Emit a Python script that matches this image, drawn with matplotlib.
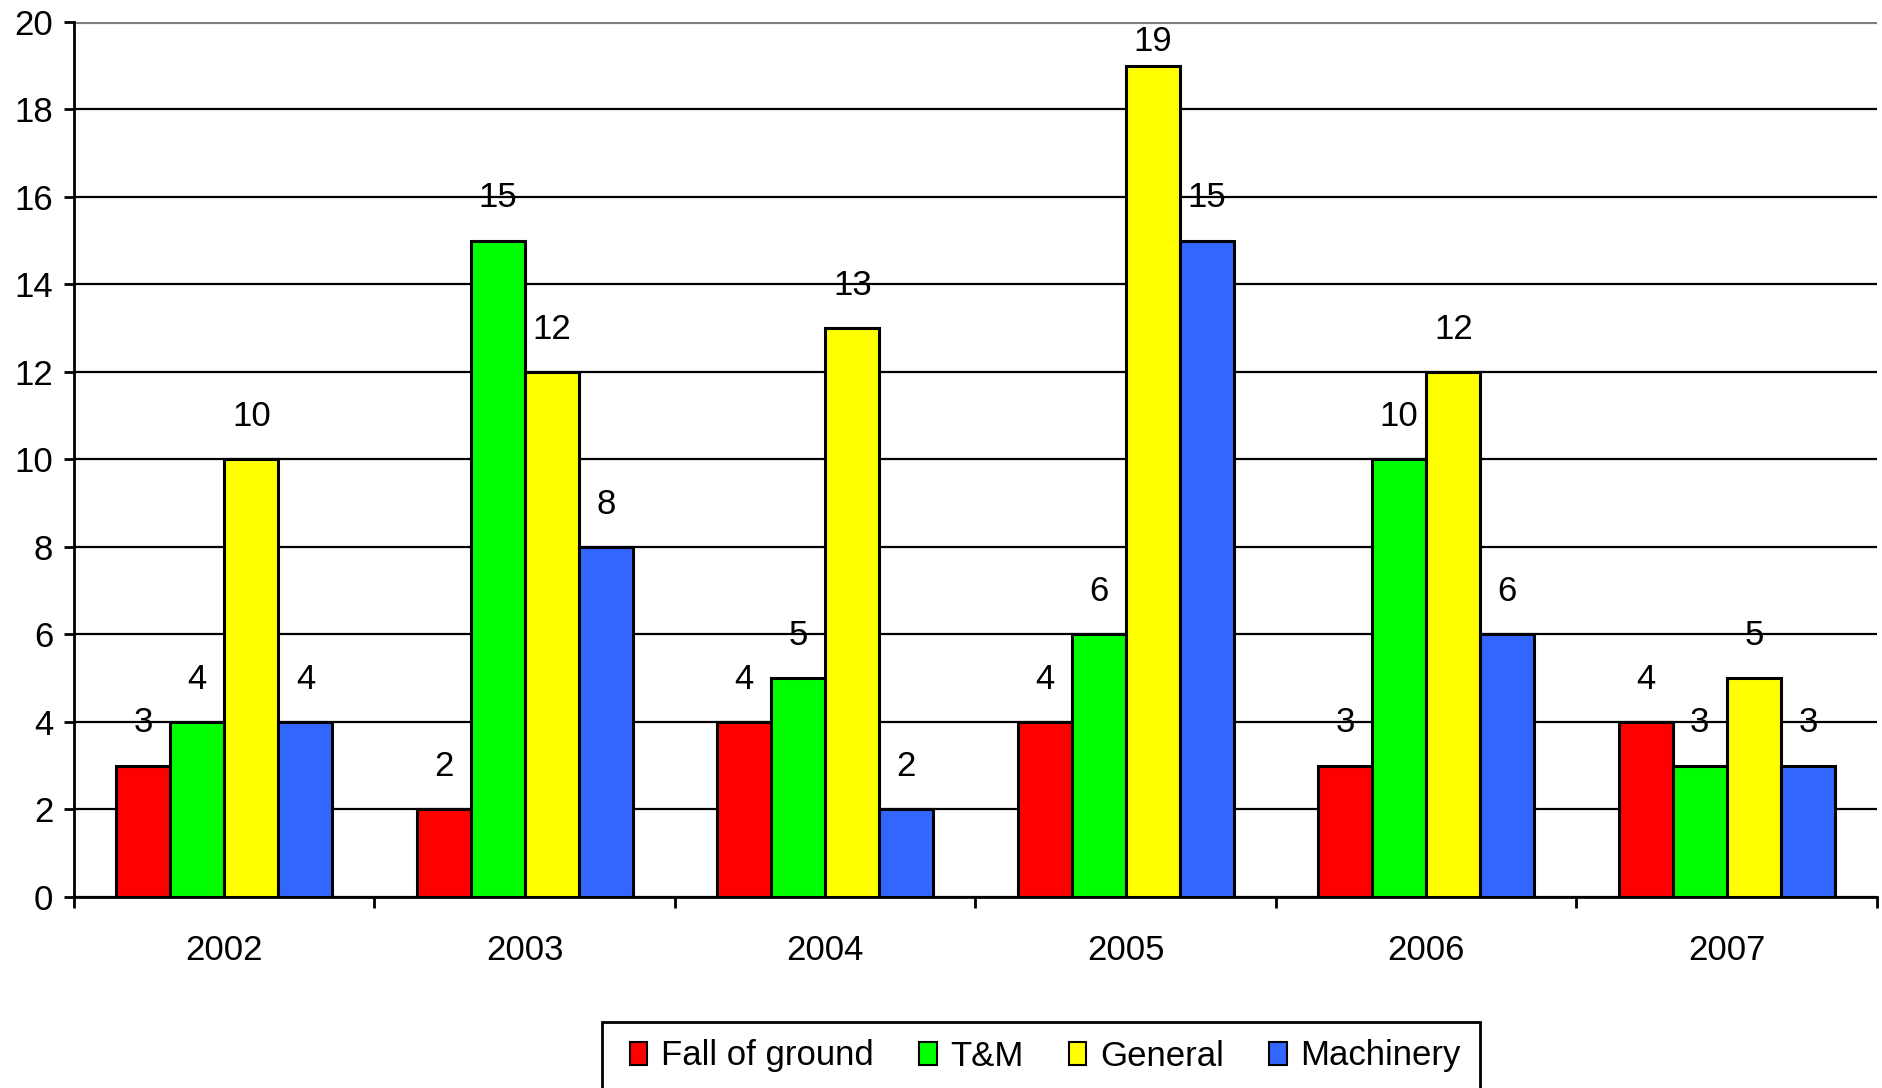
import numpy as np
import matplotlib.pyplot as plt
from matplotlib.patches import Rectangle

# data
years = ['2002', '2003', '2004', '2005', '2006', '2007']
fall_of_ground = [3, 2, 4, 4, 3, 4]
tm = [4, 15, 5, 6, 10, 3]
general = [10, 12, 13, 19, 12, 5]
machinery = [4, 8, 2, 15, 6, 3]

series = [('Fall of ground', fall_of_ground, '#FF0000'),
          ('T&M', tm, '#00FF00'),
          ('General', general, '#FFFF00'),
          ('Machinery', machinery, '#3366FF')]

plt.rcParams['font.family'] = ['Liberation Sans', 'DejaVu Sans']
fs = 25

fig = plt.figure(figsize=(18.83, 10.88), dpi=100)
ax = fig.add_axes([0.0393, 0.1756, 0.9575, 0.8042])

x = np.arange(len(years))
w = 0.18
for i, (name, vals, col) in enumerate(series):
    pos = x + (i - 1.5) * w
    ax.bar(pos, vals, width=w, color=col, edgecolor='black', linewidth=2.2,
           label=name, zorder=3)
    for px, v in zip(pos, vals):
        # labels sit just above the bar, but stay inside the plot area
        ax.text(px, min(v + 0.98, 19.55), str(v), ha='center', va='center',
                fontsize=fs, zorder=4)

ax.set_xlim(-0.5, len(years) - 0.5)
ax.set_ylim(0, 20)
ax.set_yticks(np.arange(0, 21, 2))
ax.tick_params(axis='y', labelsize=fs, length=7, width=2, pad=8)

# category boundaries as ticks, labels in the middle
ax.set_xticks(np.arange(-0.5, len(years), 1))
ax.set_xticklabels([])
ax.set_xticks(x, minor=True)
ax.set_xticklabels(years, minor=True)
ax.tick_params(axis='x', which='major', length=8, width=2)
ax.tick_params(axis='x', which='minor', length=0, labelsize=fs, pad=27)

ax.yaxis.grid(True, color='black', linewidth=1.6, zorder=0)
gl = ax.get_ygridlines()
gl[-1].set_color('#808080')
gl[-1].set_linewidth(3)
ax.set_axisbelow(True)

ax.spines['right'].set_visible(False)
ax.spines['top'].set_visible(False)
ax.spines['left'].set_linewidth(2)
ax.spines['bottom'].set_linewidth(2)

# legend box drawn by hand, runs off the bottom edge like the original
W, H = 1883, 1088
fig.patches.append(Rectangle((602 / W, -0.02), (1480 - 602) / W,
                             (H - 1022) / H + 0.02, transform=fig.transFigure,
                             fill=False, edgecolor='black', linewidth=2))
leg = fig.legend(loc='center left', bbox_to_anchor=(630 / W, 1 - 1056 / H),
                 ncol=4, fontsize=fs, frameon=False,
                 handlelength=0.5, handleheight=0.65, handletextpad=0.4,
                 columnspacing=1.3, borderpad=0, borderaxespad=0)
for p in leg.get_patches():
    p.set_linewidth(1.5)

fig.savefig('out.png', dpi=100)
